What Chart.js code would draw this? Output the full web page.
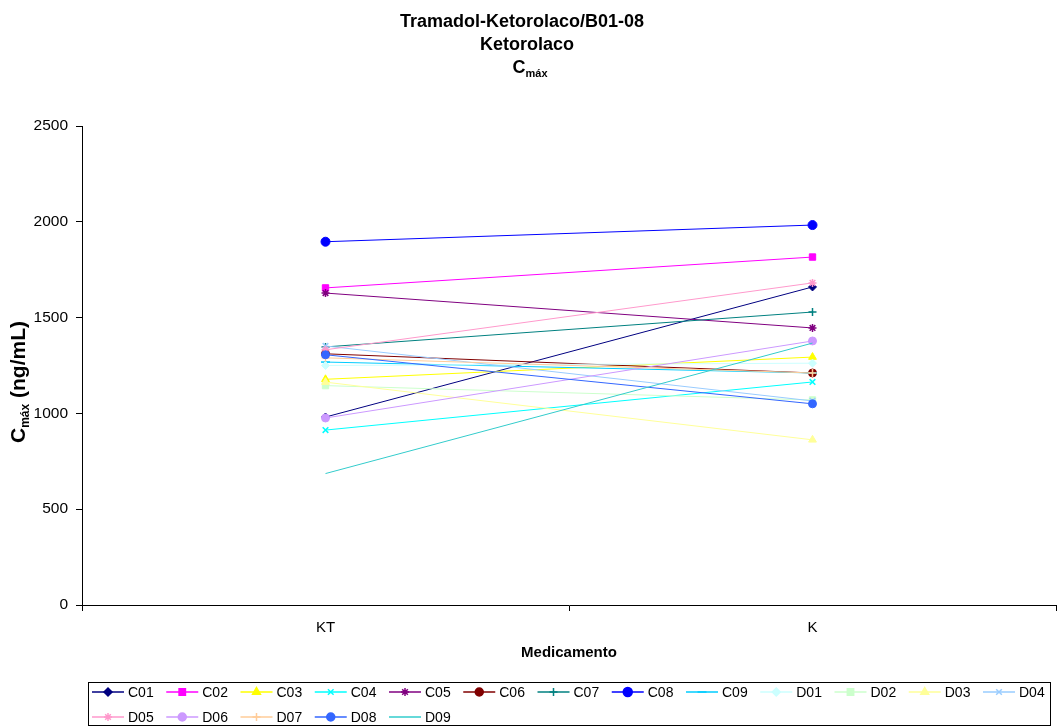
<!DOCTYPE html>
<html>
<head>
<meta charset="utf-8">
<style>
  html, body { margin: 0; padding: 0; background: #fff; }
  #wrap { width: 1059px; height: 727px; }
</style>
<script src="https://cdn.jsdelivr.net/npm/chart.js@4/dist/chart.umd.min.js"></script>
</head>
<body>
<div id="wrap"><canvas id="c" width="1059" height="727"></canvas></div>
<script>
// Categories (medication) and subject series
const categories = ['KT', 'K'];
const seriesNames = ['C01','C02','C03','C04','C05','C06','C07','C08','C09',
                     'D01','D02','D03','D04','D05','D06','D07','D08','D09'];
// Cmax (ng/mL) per subject for each medication
const cmaxKT = [981, 1655, 1178, 913, 1628, 1311, 1347, 1896, 1268,
                1250, 1145, 1163, 1352, 1332, 976, 1290, 1306, 686];
const cmaxK  = [1660, 1816, 1294, 1164, 1446, 1211, 1529, 1983, 1211,
                1262, 1070, 862, 1065, 1681, 1378, 1211, 1050, 1367];
const yTicks = [0, 500, 1000, 1500, 2000, 2500];

const colors = ['#000080','#FF00FF','#FFFF00','#00FFFF','#800080','#800000','#008080','#0000FF','#00CCFF',
                '#CCFFFF','#CCFFCC','#FFFF99','#99CCFF','#FF99CC','#CC99FF','#FFCC99','#3366FF','#33CCCC'];
const markers = ['rectRot','rect','triangle','crossRot','star','circle','cross','circle','line',
                 'rectRot','rect','triangle','crossRot','star','circle','cross','circle',false];
const radii = [4, 4.5, 4.5, 4, 4, 4, 4, 4.5, 4.5,
               4, 4.5, 4.5, 4, 4, 4, 4, 4, 0];

const FONT = '"Liberation Sans", Arial, sans-serif';

const thinStyles = ['crossRot', 'star', 'cross', 'line'];
const datasets = seriesNames.map((name, i) => ({
  label: name,
  data: [cmaxKT[i], cmaxK[i]],
  borderColor: colors[i],
  backgroundColor: colors[i],
  borderWidth: 1,
  pointStyle: markers[i],
  pointRadius: radii[i],
  pointBorderWidth: thinStyles.includes(markers[i]) ? 1.5 : 1,
  pointHoverRadius: radii[i],
  order: seriesNames.length - i,
  tension: 0
}));

// Text with a subscript part, e.g. C + "máx"
function drawSubText(ctx, parts, x, y, align) {
  let total = 0;
  parts.forEach(p => { ctx.font = p.font; total += ctx.measureText(p.text).width; });
  let cx = align === 'center' ? x - total / 2 : x;
  ctx.textAlign = 'left';
  ctx.textBaseline = 'alphabetic';
  parts.forEach(p => {
    ctx.font = p.font;
    ctx.fillText(p.text, cx, y + (p.dy || 0));
    cx += ctx.measureText(p.text).width;
  });
}

const decorPlugin = {
  id: 'decor',
  afterDraw(chart) {
    const ctx = chart.ctx;
    const area = chart.chartArea;
    ctx.save();
    ctx.fillStyle = '#000';

    // Title block
    ctx.font = 'bold 18px ' + FONT;
    ctx.textAlign = 'center';
    ctx.textBaseline = 'alphabetic';
    ctx.fillText('Tramadol-Ketorolaco/B01-08', 522, 27);
    ctx.fillText('Ketorolaco', 527, 50);
    drawSubText(ctx, [
      { text: 'C', font: 'bold 18px ' + FONT },
      { text: 'máx', font: 'bold 11px ' + FONT, dy: 4 }
    ], 530, 73, 'center');

    // X axis title
    ctx.font = 'bold 15px ' + FONT;
    ctx.textAlign = 'center';
    ctx.textBaseline = 'middle';
    ctx.fillText('Medicamento', (area.left + area.right) / 2, 653);

    // Y axis title (rotated)
    ctx.save();
    ctx.translate(25, 382);
    ctx.rotate(-Math.PI / 2);
    drawSubText(ctx, [
      { text: 'C', font: 'bold 21px ' + FONT },
      { text: 'máx', font: 'bold 12px ' + FONT, dy: 4 },
      { text: ' (ng/mL)', font: 'bold 21px ' + FONT }
    ], 0, 0, 'center');
    ctx.restore();

    // Legend box
    ctx.strokeStyle = '#000';
    ctx.lineWidth = 1;
    ctx.strokeRect(88.5, 682.5, 962, 43);
    ctx.font = '14px ' + FONT;
    ctx.textAlign = 'left';
    ctx.textBaseline = 'middle';
    seriesNames.forEach((name, i) => {
      const row = Math.floor(i / 13), col = i % 13;
      const x0 = 92 + col * 74.25;
      const y = 692 + row * 25;
      ctx.strokeStyle = colors[i];
      ctx.lineWidth = 1.5;
      ctx.beginPath();
      ctx.moveTo(x0, y);
      ctx.lineTo(x0 + 32, y);
      ctx.stroke();
      if (markers[i]) {
        ctx.fillStyle = colors[i];
        Chart.helpers.drawPoint(ctx, {
          pointStyle: markers[i],
          radius: radii[i],
          borderWidth: datasets[i].pointBorderWidth,
          rotation: 0
        }, x0 + 16, y);
      }
      ctx.fillStyle = '#000';
      ctx.fillText(name, x0 + 36, y + 1);
    });
    ctx.restore();
  }
};

new Chart(document.getElementById('c'), {
  type: 'line',
  data: { labels: categories, datasets },
  options: {
    responsive: false,
    animation: false,
    events: [],
    layout: { autoPadding: false, padding: { top: 126, right: 3, bottom: 0, left: 0 } },
    plugins: { legend: { display: false }, title: { display: false }, tooltip: { enabled: false } },
    scales: {
      x: {
        type: 'category',
        offset: true,
        afterFit(scale) { scale.height = 122; scale.paddingLeft = 0; scale.paddingRight = 0; },
        grid: { offset: true, drawOnChartArea: false, drawTicks: true, tickLength: 6, color: '#000', lineWidth: 1 },
        border: { display: true, color: '#000', width: 1 },
        ticks: { color: '#000', font: { family: FONT, size: 15 }, padding: 8, maxRotation: 0 }
      },
      y: {
        min: 0,
        max: 2500,
        afterFit(scale) { scale.width = 82; scale.paddingTop = 0; scale.paddingBottom = 0; },
        afterBuildTicks(scale) { scale.ticks = yTicks.map(v => ({ value: v })); },
        grid: { drawOnChartArea: false, drawTicks: true, tickLength: 6, color: '#000', lineWidth: 1 },
        border: { display: true, color: '#000', width: 1 },
        ticks: { color: '#000', font: { family: FONT, size: 15.5 }, padding: 8, callback: v => String(v) }
      }
    }
  },
  plugins: [decorPlugin]
});
</script>
</body>
</html>
